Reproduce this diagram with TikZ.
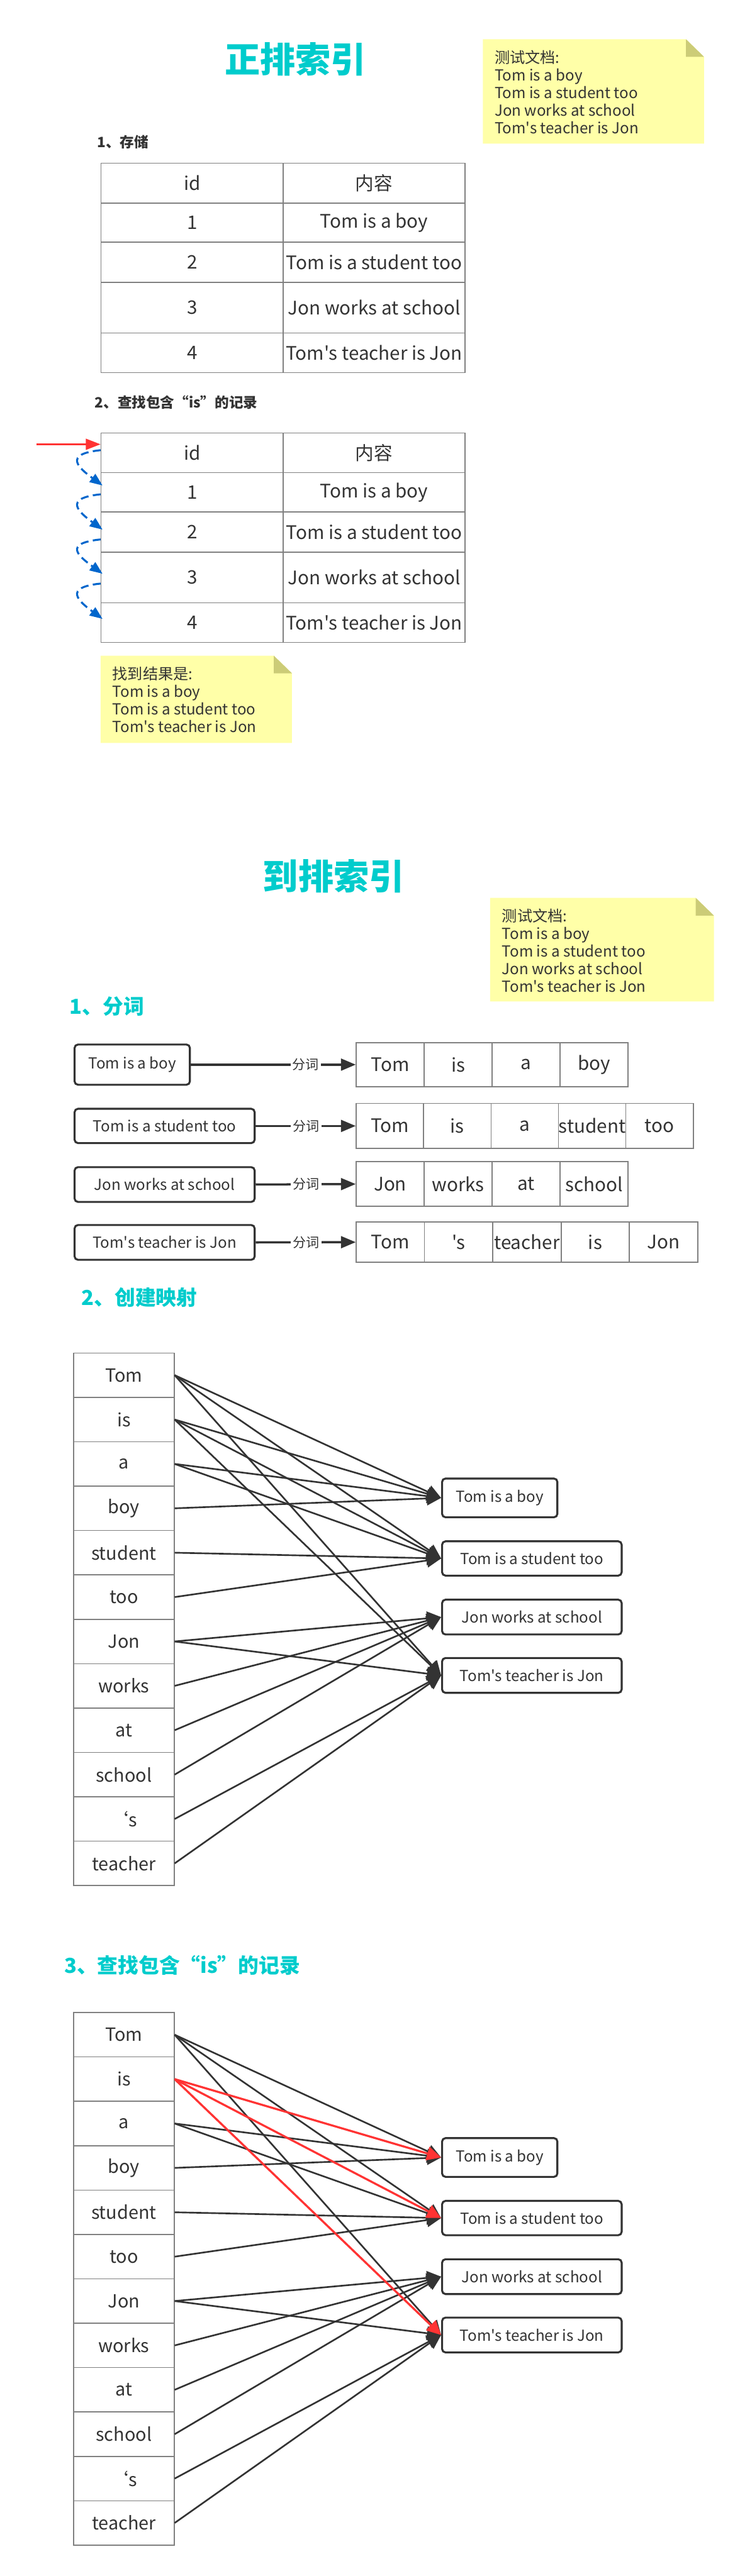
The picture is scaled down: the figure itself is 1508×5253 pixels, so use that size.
\documentclass[tikz,border=0pt]{standalone}
\usepackage{fontspec}
\setmainfont{Noto Sans CJK SC}[Ligatures=TeXOff]
\newfontfamily\heavyfont{Noto Sans CJK SC Black}
\usetikzlibrary{arrows.meta}
\definecolor{titlecyan}{HTML}{00CCCC}
\definecolor{notefill}{HTML}{FFFFA8}
\definecolor{notefold}{HTML}{CCCC77}
\definecolor{ink}{HTML}{333333}
\definecolor{cellgray}{HTML}{808080}
\definecolor{hotred}{HTML}{FF3333}
\definecolor{stepblue}{HTML}{0066CC}
\tikzset{
  bigtitle/.style={text=titlecyan, font=\fontsize{72}{80}\selectfont\heavyfont, inner sep=0},
  blackhead/.style={text=ink, font=\fontsize{29}{34}\selectfont\bfseries, inner sep=0, anchor=west},
  cyanhead/.style={text=titlecyan, font=\fontsize{42}{50}\selectfont\bfseries, inner sep=0, anchor=west},
  cell/.style={draw=cellgray, line width=2pt, inner sep=0, text=ink, font=\fontsize{38}{44}\selectfont, anchor=north west},
  notetext/.style={text=ink, font=\fontsize{31}{36}\selectfont, align=left, inner sep=0, anchor=north west},
  sentbox/.style={draw=ink, line width=4pt, rounded corners=7pt, fill=white, text=ink, font=\fontsize{31}{36}\selectfont, inner sep=0, anchor=north west},
  wordcell/.style={cell, minimum width=205pt, minimum height=90.5pt, font=\fontsize{37}{44}\selectfont, anchor=center},
  tokarrow/.style={draw=ink, line width=4.5pt, -{Triangle[length=30pt,width=24pt]}},
  splitlabel/.style={fill=white, text=ink, font=\fontsize{27}{32}\selectfont, inner xsep=4pt, inner ysep=0pt},
  mapline/.style={draw=ink, line width=3.4pt, -{Triangle[length=29pt,width=28pt]}},
  isline/.style={draw=hotred, line width=4.2pt, -{Triangle[length=29pt,width=28pt]}},
  redarrow/.style={draw=hotred, line width=4pt, -{Triangle[length=30pt,width=22pt]}},
  bluearc/.style={draw=stepblue, line width=4pt, dash pattern=on 16pt off 9pt, -{Triangle[length=26pt,width=20pt]}},
}
% sticky note: name, x1, y1, x2, y2, text
\newcommand\stickynote[6]{%
  \fill[notefill] (#2,#3) -- ({#4-37},#3) -- (#4,{#3+36}) -- (#4,#5) -- (#2,#5) -- cycle;
  \fill[notefold] ({#4-37},#3) -- ({#4-37},{#3+36}) -- (#4,{#3+36}) -- cycle;
  \node[notetext] (#1) at ({#2+24},{#3+22}) {#6};
}
% database table: prefix, top y
\newcommand\dbtable[2]{%
  \foreach \r/\t/\h/\a/\b in {0/0/81/id/内容, 1/81/80/1/Tom is a boy, 2/161/82/2/Tom is a student too, 3/243/103/3/Jon works at school, 4/346/81/4/Tom's teacher is Jon} {
    \node[cell, minimum width=371pt, minimum height=\h pt] (#1a\r) at (205,{#2+\t}) {\a};
    \node[cell, minimum width=371pt, minimum height=\h pt] (#1b\r) at (576,{#2+\t}) {\b};
  }%
}
% token row: prefix, x, top, cell width, cell height, list
\newcommand\tokrow[6]{%
  \foreach \t [count=\i from 0] in {#6}
    \node[cell, minimum width=#4, minimum height=#5] (#1t\i) at ({#2+#4*\i},#3) {\t};
}
% word -> sentence mapping: prefix, y shift, style of the "is" lines
\newcommand\wordmap[3]{%
  \begin{scope}[shift={(0,#2)}]
    \foreach \w [count=\i from 0] in {Tom,is,a,boy,student,too,Jon,works,at,school,‘s,teacher}
      \node[wordcell] (#1w\i) at (252.5,{2804.25+90.5*\i}) {\w};
    \node[sentbox, minimum width=235pt, minimum height=79pt] (#1b1) at (899,3013) {Tom is a boy};
    \node[sentbox, minimum width=366pt, minimum height=70pt] (#1b2) at (899,3141) {Tom is a student too};
    \node[sentbox, minimum width=366pt, minimum height=71pt] (#1b3) at (899,3260) {Jon works at school};
    \node[sentbox, minimum width=366pt, minimum height=71pt] (#1b4) at (899,3379) {Tom's teacher is Jon};
  \end{scope}
  \foreach \s/\b in {0/1,2/1,3/1,0/2,2/2,4/2,5/2,6/3,7/3,8/3,9/3,0/4,6/4,10/4,11/4}
    \draw[mapline] (#1w\s.east) -- (#1b\b.west);
  \foreach \b in {1,2,4}
    \draw[#3] (#1w1.east) -- (#1b\b.west);
}
\begin{document}
\begin{tikzpicture}[x=1pt,y=-1pt]
\path[use as bounding box, fill=white] (0,0) rectangle (1508,5253);

% ---------------- 正排索引 ----------------
\node[bigtitle] (title1) at (602,121) {正排索引};
\stickynote{note1}{984}{80}{1435}{293}{测试文档:\\Tom is a boy\\Tom is a student too\\Jon works at school\\Tom's teacher is Jon}
\node[blackhead] (h11) at (198,290) {1、存储};
\dbtable{ta}{332}
\node[blackhead] (h12) at (193,821) {2、查找包含“is”的记录};
\dbtable{tb}{882}
\coordinate (redS) at (75,906);
\draw[redarrow] (redS) -- (redS -| tba0.west);
\foreach \a/\b [count=\k] in {918/990, 1008/1080, 1100/1170, 1190/1262} {
  \coordinate (arcS\k) at (205,\a);
  \coordinate (arcE\k) at (209,\b);
  \draw[bluearc] (arcS\k) .. controls (128,{\a+8}) and (160,{\b-36}) .. (arcE\k);
}
\stickynote{note2}{205}{1337}{595}{1515}{找到结果是:\\Tom is a boy\\Tom is a student too\\Tom's teacher is Jon}

% ---------------- 到排索引 ----------------
\node[bigtitle] (title2) at (680,1787) {到排索引};
\stickynote{note3}{999}{1831}{1455}{2042}{测试文档:\\Tom is a boy\\Tom is a student too\\Jon works at school\\Tom's teacher is Jon}
\node[cyanhead] (h21) at (142,2052) {1、分词};

\node[sentbox, minimum width=235pt, minimum height=82pt] (s1) at (150,2128) {Tom is a boy};
\node[sentbox, minimum width=367pt, minimum height=70pt] (s2) at (150,2259) {Tom is a student too};
\node[sentbox, minimum width=367pt, minimum height=71pt] (s3) at (150,2378) {Jon works at school};
\node[sentbox, minimum width=367pt, minimum height=71pt] (s4) at (150,2496) {Tom's teacher is Jon};

\tokrow{r1}{725}{2125}{138.5}{90}{Tom,is,a,boy}
\tokrow{r2}{725}{2249}{137.4}{92}{Tom,is,a,student,too}
\tokrow{r3}{725}{2368}{138.5}{91}{Jon,works,at,school}
\tokrow{r4}{725}{2491}{139.2}{82}{Tom,'s,teacher,is,Jon}

\draw[tokarrow] (s1.east) -- (r1t0.west) node[splitlabel, pos=0.697] {分词};
\draw[tokarrow] (s2.east) -- (r2t0.west) node[splitlabel, pos=0.505] {分词};
\draw[tokarrow] (s3.east) -- (r3t0.west) node[splitlabel, pos=0.505] {分词};
\draw[tokarrow] (s4.east) -- (r4t0.west) node[splitlabel, pos=0.505] {分词};

\node[cyanhead] (h22) at (166,2646) {2、创建映射};
\wordmap{m}{0}{mapline}

\node[cyanhead] (h23) at (131,4008) {3、查找包含“is”的记录};
\wordmap{q}{1345}{isline}
\end{tikzpicture}
\end{document}
